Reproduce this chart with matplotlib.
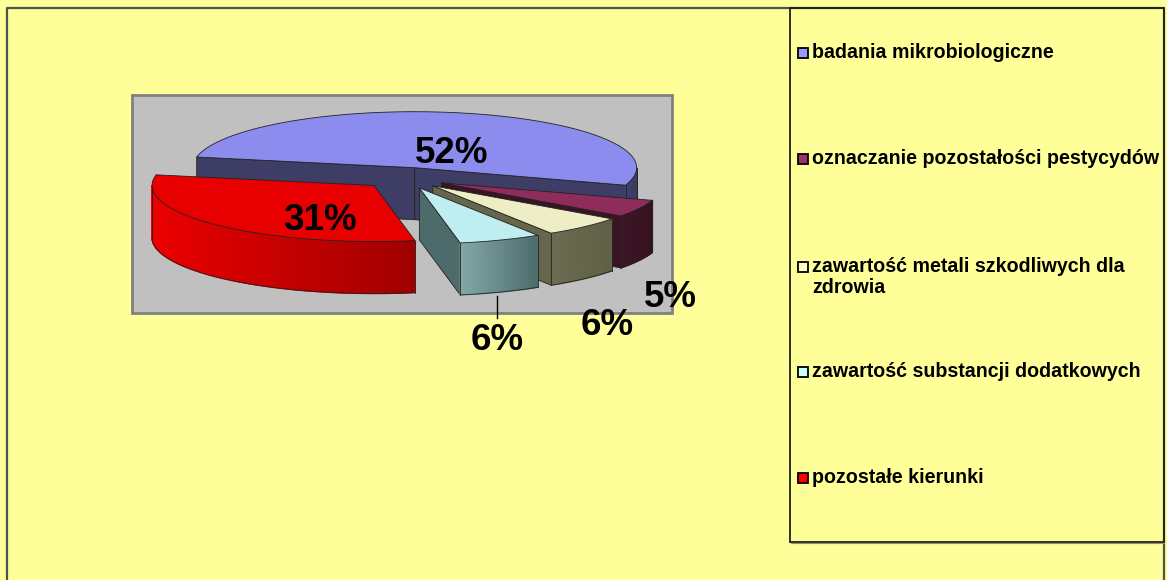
import numpy as np
import matplotlib
matplotlib.use("Agg")
import matplotlib.pyplot as plt
from matplotlib.patches import Rectangle, Polygon
from matplotlib.collections import PolyCollection
from matplotlib.colors import to_rgb

plt.rcParams["font.family"] = ["Liberation Sans", "DejaVu Sans"]

# dane
categories = [
    "badania mikrobiologiczne",
    "oznaczanie pozostałości pestycydów",
    "zawartość metali szkodliwych dla\nzdrowia",
    "zawartość substancji dodatkowych",
    "pozostałe kierunki",
]
shares = [52, 5, 6, 6, 31]
pct_labels = ["52%", "5%", "6%", "6%", "31%"]

# kolory (legenda / wierzch / ściany)
legend_colors = ["#9999FF", "#993366", "#FFFFCC", "#CCFFFF", "#FF0000"]
top_colors = ["#8C8CEE", "#8E2C5C", "#EEEEC6", "#BEEEF0", "#E80000"]
wall_light = ["#42426C", "#3E1628", "#6C6C52", "#84A8A8", "#EC0000"]
wall_dark = ["#3A3A60", "#36121F", "#606046", "#4E6E6E", "#A00000"]
side_colors = ["#3D3D66", "#3A1426", "#66664C", "#4E6B6B", "#B00000"]

# geometria wykresu 3D (piksele)
cx, cy = 404, 178
rx, ry = 222, 56
depth = 52
start_angle = 169
explode = 0.19

# pozycje etykiet (linia bazowa)
label_xy = [(452, 163), (670, 307), (607, 335), (497, 350), (320, 230)]

fig = plt.figure(figsize=(11.67, 5.8), dpi=100)
fig.patch.set_facecolor("#FFFF99")
ax = fig.add_axes([0, 0, 1, 1])
ax.set_xlim(0, 1167)
ax.set_ylim(580, 0)
ax.axis("off")

# ramki
ax.plot([7, 7, 1164, 1164], [582, 8, 8, 582], color="#505050", lw=1.6, zorder=1)
ax.add_patch(Rectangle((132, 95), 540, 218, facecolor="#C0C0C0",
                       edgecolor="#808080", lw=2, zorder=1))
ax.add_patch(Rectangle((790, 8), 374, 534, facecolor="none",
                       edgecolor="#202020", lw=1.3, zorder=1))
ax.plot([791, 1164], [543.2, 543.2], color="#909070", lw=0.8, zorder=1)


def proj(ox, oy, ang, r=1.0, z=0.0):
    a = np.radians(ang)
    return ox + r * rx * np.cos(a), oy - r * ry * np.sin(a) + z


total = sum(shares)
cum = np.concatenate([[0], np.cumsum(shares)])
t1s = start_angle - 360 * cum[:-1] / total
t2s = start_angle - 360 * cum[1:] / total
mids = (t1s + t2s) / 2

order = np.argsort(np.sin(np.radians(mids)))[::-1]
zbase = 3
edge_c = "#222222"

for k, i in enumerate(order):
    t1, t2, mid = t1s[i], t2s[i], mids[i]
    ox, oy = proj(cx, cy, mid, explode)
    zo = zbase + k * 3

    # boczne ściany promieniowe
    for ang, visible in [(t1, np.cos(np.radians(t1)) < 0),
                         (t2, np.cos(np.radians(t2)) > 0)]:
        if visible:
            px, py = proj(ox, oy, ang)
            quad = [(ox, oy), (px, py), (px, py + depth), (ox, oy + depth)]
            ax.add_patch(Polygon(quad, closed=True, facecolor=side_colors[i],
                                 edgecolor=edge_c, lw=0.6, zorder=zo))

    # ściana zewnętrzna (widoczna część)
    angs = np.linspace(t2, t1, int(abs(t1 - t2) * 2) + 2)
    segs = []
    xs_seg = []
    for a0, a1 in zip(angs[:-1], angs[1:]):
        if np.sin(np.radians((a0 + a1) / 2)) < 0:
            x0, y0 = proj(ox, oy, a0)
            x1, y1 = proj(ox, oy, a1)
            segs.append([(x0, y0), (x1, y1), (x1, y1 + depth), (x0, y0 + depth)])
            xs_seg.append((x0 + x1) / 2)
    if segs:
        xs_seg = np.array(xs_seg)
        f = (xs_seg - xs_seg.min()) / max(xs_seg.max() - xs_seg.min(), 1)
        c0, c1 = np.array(to_rgb(wall_light[i])), np.array(to_rgb(wall_dark[i]))
        cols = [tuple(c0 + (c1 - c0) * v) for v in f]
        ax.add_collection(PolyCollection(segs, facecolors=cols, edgecolors=cols,
                                         lw=1.0, zorder=zo + 1))
        pts = np.array([s[0] for s in segs] + [segs[-1][1]])
        ax.plot(pts[:, 0], pts[:, 1] + depth, color=edge_c, lw=0.6, zorder=zo + 1)
        for p in (pts[0], pts[-1]):
            ax.plot([p[0], p[0]], [p[1], p[1] + depth], color=edge_c, lw=0.6,
                    zorder=zo + 1)

    # wierzch
    arc = np.linspace(t1, t2, 200)
    ax_, ay_ = proj(ox, oy, arc)
    top = np.column_stack([np.r_[ox, ax_], np.r_[oy, ay_]])
    ax.add_patch(Polygon(top, closed=True, facecolor=top_colors[i],
                         edgecolor=edge_c, lw=0.6, zorder=zo + 2))

# linia odniesienia dla etykiety 6% (substancje dodatkowe)
lx, ly = proj(*proj(cx, cy, mids[3], explode), mids[3], 1.0, depth)
ax.plot([label_xy[3][0], label_xy[3][0]], [ly + 4, label_xy[3][1] - 32],
        color="black", lw=1, zorder=40)

for txt, (x, y) in zip(pct_labels, label_xy):
    ax.text(x, y, txt, ha="center", va="baseline", fontsize=26.5,
            fontweight="bold", color="black", zorder=50)

# legenda
leg_base = [57.7, 164, 271.7, 376.7, 483]
line_step = 21.3
for name, col, yb in zip(categories, legend_colors, leg_base):
    ax.add_patch(Rectangle((797.5, yb - 10), 10, 10, facecolor=col,
                           edgecolor="black", lw=1.3, zorder=5))
    for j, line in enumerate(name.split("\n")):
        ax.text(812, yb + j * line_step, line, ha="left", va="baseline",
                fontsize=14.1, fontweight="bold", color="black", zorder=5)

fig.savefig("out.png", dpi=100, facecolor=fig.get_facecolor())
